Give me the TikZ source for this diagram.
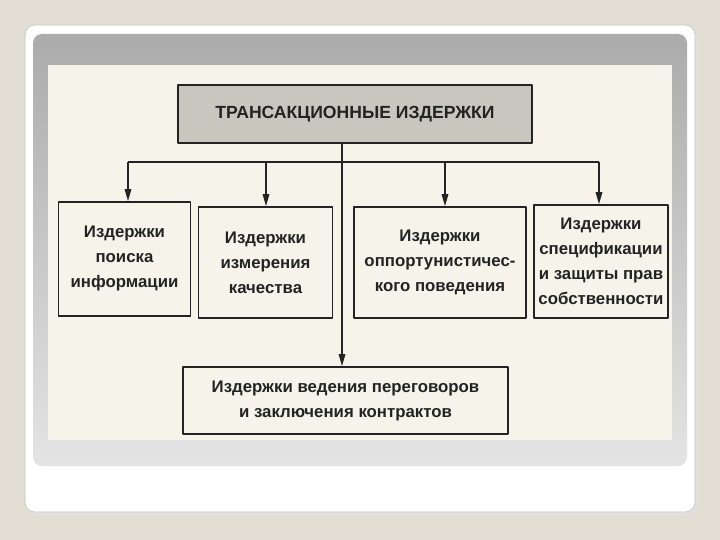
\documentclass[tikz,border=0pt]{standalone}
\usepackage{fontspec}
\setmainfont{Liberation Sans}
\usetikzlibrary{arrows.meta}

\begin{document}
\begin{tikzpicture}[x=1pt,y=-1pt,line join=round,
  cost/.style={draw=ink,line width=1.6pt,fill=scan,align=center,text=ink,
    font=\bfseries\fontsize{16.8}{25}\selectfont,inner sep=2pt},
  feed/.style={draw=ink,line width=1.5pt,-{Triangle[length=12pt,width=6.5pt]}}]
\definecolor{desk}{HTML}{E3DED4}
\definecolor{rim}{HTML}{C9C4BA}
\definecolor{scan}{HTML}{F6F3EA}
\definecolor{panelTop}{HTML}{ABABAB}
\definecolor{panelBot}{HTML}{E4E4E4}
\definecolor{head}{HTML}{C8C6BE}
\definecolor{ink}{HTML}{232323}
\useasboundingbox (0,0) rectangle (720,540);
\fill[desk] (0,0) rectangle (720,540);
\fill[black!12,rounded corners=10pt] (26,28) rectangle (697,515);
\filldraw[fill=white,draw=rim,line width=.6pt,rounded corners=10pt] (25,25) rectangle (695,512);
\shade[top color=panelTop,bottom color=panelBot,rounded corners=9pt] (33,34) rectangle (687,466);
\fill[scan] (48,65) rectangle (672,440);
\node[cost,fill=head,minimum width=354pt,minimum height=58pt,font=\bfseries\fontsize{17.6}{25}\selectfont] (title) at (355,114) {ТРАНСАКЦИОННЫЕ ИЗДЕРЖКИ};
\node[cost,minimum width=132pt,minimum height=114pt,text depth=4pt] (search) at (124.5,259) {Издержки\\поиска\\информации};
\node[cost,minimum width=134pt,minimum height=111pt] (measure) at (265.5,262.5) {Издержки\\измерения\\качества};
\node[cost,minimum width=172pt,minimum height=111pt] (opport) at (440,262.5) {Издержки\\оппортунистичес-\\кого поведения};
\node[cost,minimum width=134pt,minimum height=113pt] (rights) at (601,261.5) {Издержки\\спецификации\\и защиты прав\\собственности};
\node[cost,minimum width=325pt,minimum height=67pt] (deals) at (345.5,400.5) {Издержки ведения переговоров\\и заключения контрактов};
\coordinate (trunk) at (342,162);
\coordinate (tapA) at (128,162);
\coordinate (tapB) at (266,162);
\coordinate (tapC) at (445,162);
\coordinate (tapD) at (599,162);
\draw[draw=ink,line width=1.5pt] (tapA) -- (tapD);
\draw[feed] (title.south -| trunk) -- (trunk |- deals.north);
\draw[feed] (tapA) -- (tapA |- search.north);
\draw[feed] (tapB) -- (tapB |- measure.north);
\draw[feed] (tapC) -- (tapC |- opport.north);
\draw[feed] (tapD) -- (tapD |- rights.north);
\end{tikzpicture}
\end{document}
